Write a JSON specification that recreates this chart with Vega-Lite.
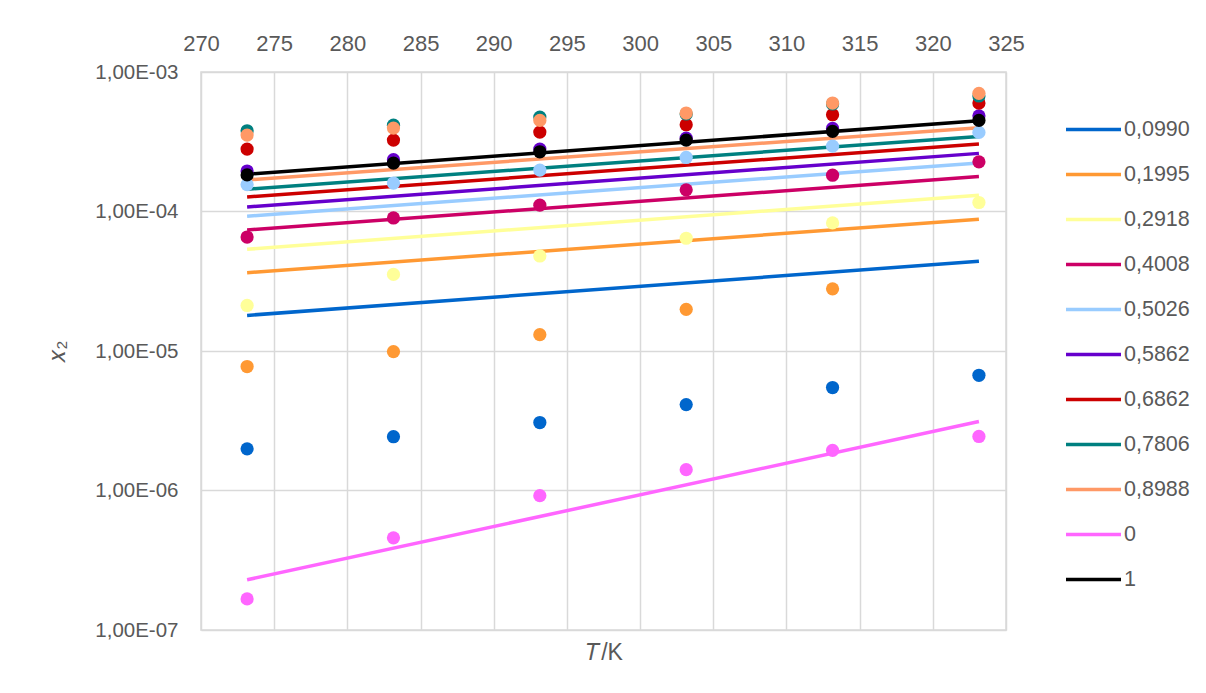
{
  "$schema": "https://vega.github.io/schema/vega-lite/v6.json",
  "autosize": {"type": "none"},
  "width": 805,
  "height": 558,
  "padding": {"left": 201, "top": 72, "right": 200, "bottom": 63},
  "background": "white",
  "config": {
    "font": "Liberation Sans",
    "view": {"stroke": "#D9D9D9", "strokeWidth": 1.5},
    "axis": {"labelColor": "#595959", "titleColor": "#595959", "gridColor": "#D9D9D9", "gridWidth": 1.5, "domain": false, "ticks": false}
  },
  "datasets": {
    "pts": [
      {"T": 273.15, "s": "0,0990", "x2": 1.99e-6},
      {"T": 283.15, "s": "0,0990", "x2": 2.43e-6},
      {"T": 293.15, "s": "0,0990", "x2": 3.07e-6},
      {"T": 303.15, "s": "0,0990", "x2": 4.13e-6},
      {"T": 313.15, "s": "0,0990", "x2": 5.47e-6},
      {"T": 323.15, "s": "0,0990", "x2": 6.70e-6},
      {"T": 273.15, "s": "0,1995", "x2": 7.74e-6},
      {"T": 283.15, "s": "0,1995", "x2": 9.9e-6},
      {"T": 293.15, "s": "0,1995", "x2": 1.31e-5},
      {"T": 303.15, "s": "0,1995", "x2": 1.99e-5},
      {"T": 313.15, "s": "0,1995", "x2": 2.79e-5},
      {"T": 273.15, "s": "0,2918", "x2": 2.12e-5},
      {"T": 283.15, "s": "0,2918", "x2": 3.54e-5},
      {"T": 293.15, "s": "0,2918", "x2": 4.80e-5},
      {"T": 303.15, "s": "0,2918", "x2": 6.43e-5},
      {"T": 313.15, "s": "0,2918", "x2": 8.28e-5},
      {"T": 323.15, "s": "0,2918", "x2": 1.16e-4},
      {"T": 273.15, "s": "0,4008", "x2": 6.56e-5},
      {"T": 283.15, "s": "0,4008", "x2": 8.99e-5},
      {"T": 293.15, "s": "0,4008", "x2": 1.11e-4},
      {"T": 303.15, "s": "0,4008", "x2": 1.43e-4},
      {"T": 313.15, "s": "0,4008", "x2": 1.82e-4},
      {"T": 323.15, "s": "0,4008", "x2": 2.27e-4},
      {"T": 273.15, "s": "0,5026", "x2": 1.56e-4},
      {"T": 283.15, "s": "0,5026", "x2": 1.60e-4},
      {"T": 293.15, "s": "0,5026", "x2": 1.98e-4},
      {"T": 303.15, "s": "0,5026", "x2": 2.44e-4},
      {"T": 313.15, "s": "0,5026", "x2": 2.94e-4},
      {"T": 323.15, "s": "0,5026", "x2": 3.69e-4},
      {"T": 273.15, "s": "0,5862", "x2": 1.95e-4},
      {"T": 283.15, "s": "0,5862", "x2": 2.35e-4},
      {"T": 293.15, "s": "0,5862", "x2": 2.80e-4},
      {"T": 303.15, "s": "0,5862", "x2": 3.36e-4},
      {"T": 313.15, "s": "0,5862", "x2": 3.94e-4},
      {"T": 323.15, "s": "0,5862", "x2": 4.85e-4},
      {"T": 273.15, "s": "0,6862", "x2": 2.80e-4},
      {"T": 283.15, "s": "0,6862", "x2": 3.25e-4},
      {"T": 293.15, "s": "0,6862", "x2": 3.71e-4},
      {"T": 303.15, "s": "0,6862", "x2": 4.19e-4},
      {"T": 313.15, "s": "0,6862", "x2": 4.94e-4},
      {"T": 323.15, "s": "0,6862", "x2": 5.99e-4},
      {"T": 273.15, "s": "0,7806", "x2": 3.79e-4},
      {"T": 283.15, "s": "0,7806", "x2": 4.16e-4},
      {"T": 293.15, "s": "0,7806", "x2": 4.75e-4},
      {"T": 303.15, "s": "0,7806", "x2": 5.0e-4},
      {"T": 313.15, "s": "0,7806", "x2": 5.9e-4},
      {"T": 323.15, "s": "0,7806", "x2": 6.73e-4},
      {"T": 273.15, "s": "0,8988", "x2": 3.53e-4},
      {"T": 283.15, "s": "0,8988", "x2": 3.96e-4},
      {"T": 293.15, "s": "0,8988", "x2": 4.50e-4},
      {"T": 303.15, "s": "0,8988", "x2": 5.08e-4},
      {"T": 313.15, "s": "0,8988", "x2": 5.99e-4},
      {"T": 323.15, "s": "0,8988", "x2": 7.03e-4},
      {"T": 273.15, "s": "0", "x2": 1.67e-7},
      {"T": 283.15, "s": "0", "x2": 4.58e-7},
      {"T": 293.15, "s": "0", "x2": 9.18e-7},
      {"T": 303.15, "s": "0", "x2": 1.41e-6},
      {"T": 313.15, "s": "0", "x2": 1.94e-6},
      {"T": 323.15, "s": "0", "x2": 2.44e-6},
      {"T": 273.15, "s": "1", "x2": 1.83e-4},
      {"T": 283.15, "s": "1", "x2": 2.22e-4},
      {"T": 293.15, "s": "1", "x2": 2.68e-4},
      {"T": 303.15, "s": "1", "x2": 3.25e-4},
      {"T": 313.15, "s": "1", "x2": 3.75e-4},
      {"T": 323.15, "s": "1", "x2": 4.50e-4}
    ],
    "fit": [
      {"T": 273.15, "s": "0,0990", "x2": 1.80e-5},
      {"T": 323.15, "s": "0,0990", "x2": 4.40e-5},
      {"T": 273.15, "s": "0,1995", "x2": 3.64e-5},
      {"T": 323.15, "s": "0,1995", "x2": 8.80e-5},
      {"T": 273.15, "s": "0,2918", "x2": 5.36e-5},
      {"T": 323.15, "s": "0,2918", "x2": 1.31e-4},
      {"T": 273.15, "s": "0,4008", "x2": 7.37e-5},
      {"T": 323.15, "s": "0,4008", "x2": 1.78e-4},
      {"T": 273.15, "s": "0,5026", "x2": 9.25e-5},
      {"T": 323.15, "s": "0,5026", "x2": 2.23e-4},
      {"T": 273.15, "s": "0,5862", "x2": 1.078e-4},
      {"T": 323.15, "s": "0,5862", "x2": 2.61e-4},
      {"T": 273.15, "s": "0,6862", "x2": 1.272e-4},
      {"T": 323.15, "s": "0,6862", "x2": 3.05e-4},
      {"T": 273.15, "s": "0,7806", "x2": 1.445e-4},
      {"T": 323.15, "s": "0,7806", "x2": 3.45e-4},
      {"T": 273.15, "s": "0,8988", "x2": 1.685e-4},
      {"T": 323.15, "s": "0,8988", "x2": 3.98e-4},
      {"T": 273.15, "s": "0", "x2": 2.29e-7},
      {"T": 323.15, "s": "0", "x2": 3.12e-6},
      {"T": 273.15, "s": "1", "x2": 1.85e-4},
      {"T": 323.15, "s": "1", "x2": 4.47e-4}
    ]
  },
  "encoding": {
    "x": {
      "field": "T", "type": "quantitative",
      "scale": {"domain": [270, 325], "nice": false, "zero": false},
      "axis": {
        "orient": "top", "values": [270, 275, 280, 285, 290, 295, 300, 305, 310, 315, 320, 325],
        "labelFontSize": 22, "labelPadding": 17, "labelFlush": false,
        "title": "𝑇/K", "titleFontSize": 23, "titleFontWeight": "normal",
        "titleX": 403, "titleY": 587, "titleBaseline": "alphabetic", "titleAnchor": "middle"
      }
    },
    "y": {
      "field": "x2", "type": "quantitative",
      "scale": {"type": "log", "domain": [1e-7, 1e-3], "nice": false},
      "axis": {
        "values": [1e-7, 1e-6, 1e-5, 1e-4, 1e-3],
        "labelExpr": "'1,00E-0' + round(-log(datum.value)/LN10)",
        "labelFontSize": 20.5, "labelPadding": 23, "labelFlush": false,
        "title": "𝑥₂", "titleFontSize": 24, "titleFontWeight": "normal",
        "titleX": -132, "titleY": 279, "titleAnchor": "middle"
      }
    },
    "color": {
      "field": "s", "type": "nominal",
      "scale": {
        "domain": ["0,0990", "0,1995", "0,2918", "0,4008", "0,5026", "0,5862", "0,6862", "0,7806", "0,8988", "0", "1"],
        "range": ["#0066CC", "#FF9933", "#FFFF99", "#CC0066", "#99CCFF", "#6600CC", "#CC0000", "#008080", "#FF9966", "#FF66FF", "#000000"]
      },
      "legend": {
        "title": null, "orient": "none", "legendX": 863, "legendY": 28,
        "symbolType": "stroke", "symbolSize": 3025, "symbolStrokeWidth": 3.5,
        "labelFontSize": 21.5, "labelColor": "#595959", "labelOffset": 1,
        "rowPadding": 5, "padding": 0
      }
    }
  },
  "layer": [
    {"data": {"name": "fit"}, "mark": {"type": "line", "strokeWidth": 3.5}},
    {"data": {"name": "pts"}, "mark": {"type": "circle", "size": 175, "opacity": 1}}
  ]
}
